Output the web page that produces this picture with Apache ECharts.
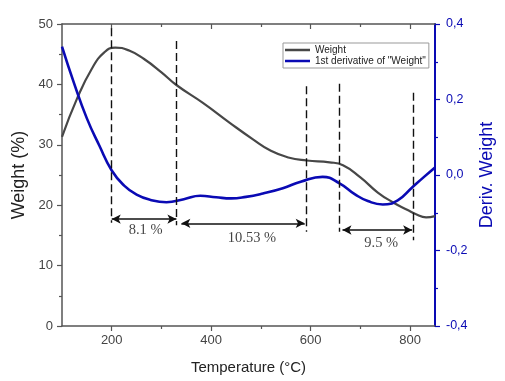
<!DOCTYPE html>
<html>
<head>
<meta charset="utf-8">
<script src="https://cdn.jsdelivr.net/npm/echarts@6/dist/echarts.min.js"></script>
<style>
html,body{margin:0;padding:0;background:#fff;}
#c{width:505px;height:381px;}
</style>
</head>
<body>
<div id="c"></div>
<script>
// Weight curve (°C, %)
const weightT = [100,130,160,185,207,235,265,300,330,384,438,484,520,555,592,638,665,700,735,765,795,812,832,850];
const weightV = [31.3,37.6,42.6,45.3,46.1,45.6,44.2,42.0,39.9,36.9,33.6,30.9,29.0,27.9,27.4,27.1,26.6,24.6,22.1,20.5,19.2,18.5,18.0,18.2];
// 1st derivative curve
const derivT = [100,125,150,175,200,225,250,278,310,345,378,410,440,470,504,544,580,624,658,690,715,745,775,804,828,850];
const derivV = [0.340,0.240,0.150,0.078,0.012,-0.028,-0.052,-0.066,-0.072,-0.064,-0.055,-0.059,-0.062,-0.058,-0.049,-0.035,-0.018,-0.005,-0.022,-0.052,-0.069,-0.078,-0.067,-0.033,-0.005,0.020];
// tick values
const xMajor = [200,400,600,800];
const xMinor = [300,500,700];
// annotations
const dashX = [200,330,592,658,806];
const dashTop = [49.3,47.2,39.7,40.1,38.6];
const dashBottom = [17.1,16.7,15.6,15.6,14.2];
const arrowFrom = [200,340,664];
const arrowTo = [330,588,804];
const arrowY = [17.7,17.0,15.9];
const labelText = ['8.1 %','10.53 %','9.5 %'];
const labelX = [268,482,742];
const labelY = [15.9,14.6,13.7];

const AX = '#555';
const BLUE = '#0a0ab4';
const GRAY = '#474747';
const FONT = 'Arial, "Liberation Sans", sans-serif';

const chart = echarts.init(document.getElementById('c'), null, {renderer:'canvas'});

function xAx(pos, ticks, len, inside, labels, line, extra) {
  return Object.assign({
    type:'value', position:pos, min:100, max:850,
    axisLine:{show:line, onZero:false, lineStyle:{color:AX, width:1.5}},
    axisTick:{show:true, customValues:ticks, length:len, inside:inside, lineStyle:{color:AX, width:1.2}},
    axisLabel:{show:labels, customValues:labels ? xMajor : undefined, color:'#444', fontSize:13, fontFamily:FONT, margin:8},
    splitLine:{show:false}
  }, extra || {});
}

const option = {
  animation:false,
  backgroundColor:'#fff',
  grid:{left:62, right:70, top:24, bottom:55, containLabel:false},
  legend:{
    data:['Weight','1st derivative of "Weight"'],
    orient:'vertical', left:283, top:43,
    icon:'rect', itemWidth:25, itemHeight:2.5, itemGap:1,
    padding:[2,3,2,2],
    borderColor:'#999', borderWidth:1,
    textStyle:{fontSize:10, fontFamily:FONT, color:'#222'}
  },
  xAxis:[
    xAx('bottom', xMajor, 5, false, true, true, {
      name:'Temperature (°C)', nameLocation:'middle', nameGap:34,
      nameTextStyle:{fontSize:15, fontFamily:FONT, color:'#222'}
    }),
    xAx('bottom', xMinor, 3, false, false, false),
    xAx('top', xMajor, 5, true, false, true),
    xAx('top', xMinor, 3, true, false, false)
  ],
  yAxis:[
    {
      type:'value', position:'left', min:0, max:50, interval:10,
      name:'Weight (%)', nameLocation:'middle', nameGap:30,
      nameTextStyle:{fontSize:18, fontFamily:FONT, color:'#222'},
      axisLine:{show:true, onZero:false, lineStyle:{color:AX, width:1.5}},
      axisTick:{show:true, length:5, lineStyle:{color:AX, width:1.2}},
      minorTick:{show:true, splitNumber:2, length:3, lineStyle:{color:AX, width:1.2}},
      axisLabel:{color:'#444', fontSize:13, fontFamily:FONT, margin:9},
      splitLine:{show:false}
    },
    {
      type:'value', position:'right', min:-0.4, max:0.4, interval:0.2,
      name:'Deriv. Weight', nameLocation:'middle', nameGap:43,
      nameTextStyle:{fontSize:18, fontFamily:FONT, color:BLUE},
      axisLine:{show:true, onZero:false, lineStyle:{color:BLUE, width:2}},
      axisTick:{show:true, length:5, lineStyle:{color:BLUE, width:1.2}},
      minorTick:{show:true, splitNumber:2, length:3, lineStyle:{color:BLUE, width:1.2}},
      axisLabel:{color:BLUE, fontSize:12.5, fontFamily:FONT, margin:11,
        formatter:function(v){ return (Math.round(v*10)/10).toFixed(1).replace('.',','); }},
      splitLine:{show:false}
    }
  ],
  series:[
    {
      name:'Weight', type:'line', xAxisIndex:0, yAxisIndex:0,
      data: weightT.map((t,i)=>[t, weightV[i]]),
      smooth:0.5, showSymbol:false, symbol:'none',
      lineStyle:{color:GRAY, width:2.2}, itemStyle:{color:GRAY},
      z:3,
      markLine:{
        silent:true, symbol:['none','none'], animation:false,
        label:{show:false},
        lineStyle:{color:'#111', width:1.4, type:[8,4]},
        emphasis:{disabled:true},
        data: dashX.map((x,i)=>[{coord:[x, dashTop[i]]},{coord:[x, dashBottom[i]]}])
      }
    },
    {
      name:'1st derivative of "Weight"', type:'line', xAxisIndex:0, yAxisIndex:1,
      data: derivT.map((t,i)=>[t, derivV[i]]),
      smooth:0.5, showSymbol:false, symbol:'none',
      lineStyle:{color:BLUE, width:2.6}, itemStyle:{color:BLUE},
      z:4
    },
    {
      name:'arrows', type:'line', xAxisIndex:0, yAxisIndex:0,
      data:[], showSymbol:false,
      markLine:{
        silent:true, symbol:['arrow','arrow'], symbolSize:[7,9], animation:false,
        label:{show:false},
        lineStyle:{color:'#111', width:1.5, type:'solid'},
        emphasis:{disabled:true},
        data: arrowFrom.map((x,i)=>[{coord:[x, arrowY[i]]},{coord:[arrowTo[i], arrowY[i]]}])
      }
    },
    {
      name:'labels', type:'scatter', xAxisIndex:0, yAxisIndex:0,
      symbolSize:1, itemStyle:{color:'rgba(0,0,0,0)'}, silent:true,
      data: labelText.map((s,i)=>({name:s, value:[labelX[i], labelY[i]]})),
      label:{show:true, position:'inside', formatter:'{b}',
        fontFamily:'"Liberation Serif", "Times New Roman", serif', fontSize:14.5, color:'#111'}
    }
  ]
};
chart.setOption(option);
</script>
</body>
</html>
